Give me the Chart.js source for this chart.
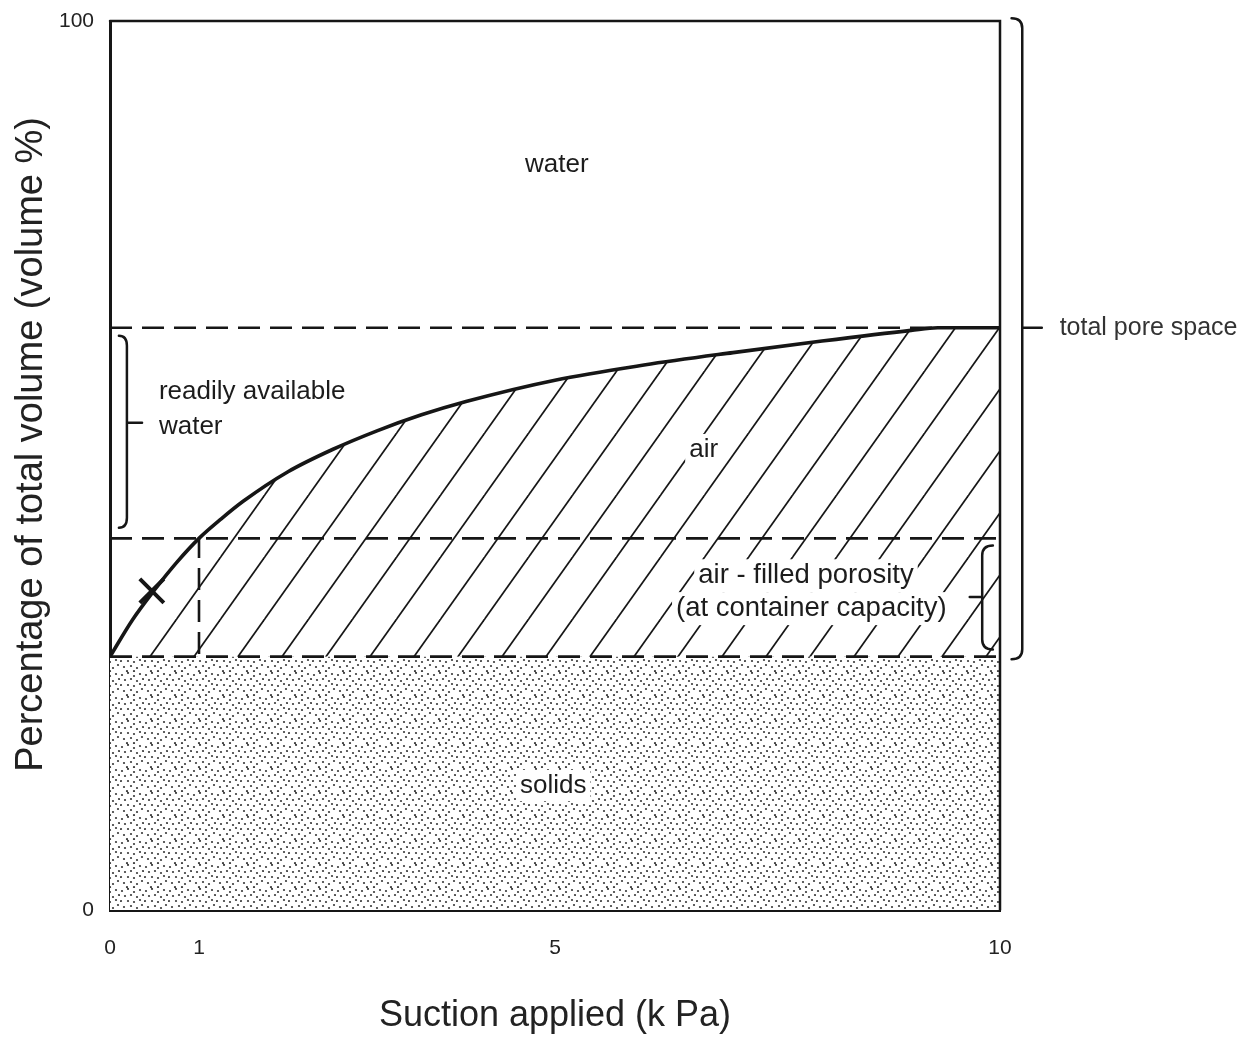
<!DOCTYPE html>
<html><head><meta charset="utf-8">
<script src="https://cdn.jsdelivr.net/npm/chart.js@4.4.1/dist/chart.umd.min.js"></script>
<style>html,body{margin:0;padding:0;background:#fff;}canvas{display:block;}</style>
</head><body>
<canvas id="c" width="1253" height="1038"></canvas>
<script>
// ---- data ----
const suction      = [0, 0.25, 0.5, 0.75, 1, 1.25, 1.5, 2, 2.5, 3, 3.5, 4, 5, 6, 7, 8, 9, 9.3, 10];
const waterCurve   = [28.5, 32.6, 36, 39.1, 41.8, 44, 46, 49.3, 51.8, 53.9, 55.7, 57.2, 59.6, 61.3, 62.7, 64, 65.2, 65.5, 65.5];
const lineEnds     = [0, 10];
const solidsLevel  = [28.5, 28.5];
const containerCap = [41.8, 41.8];
const totalPore    = [65.5, 65.5];
const capSuction   = [1, 1];
const capLevels    = [0, 41.8];
const markerX      = [0.47];
const markerY      = [35.9];
const xTickValues  = [0, 1, 5, 10];
const yTickValues  = [0, 100];
const xTitle = 'Suction applied (k Pa)';
const yTitle = '    Percentage of total volume (volume %)';
const labelTexts = ['water', 'air', 'solids', 'readily available', 'water',
                    'air - filled porosity', '(at container capacity)', 'total pore space'];
const labelX = [5.02, 6.67, 4.98, 0.55, 0.55, 7.82, 7.88, 10.67];
const labelY = [83.8, 51.8, 14, 58.3, 54.3, 37.6, 33.9, 65.5];
const braceX    = [0.19, 9.8, 10.25];
const braceHook = [0.1, 9.92, 10.13];
const braceTick = [0.36, 9.66, 10.47];
const braceTop  = [64.6, 41, 100.3];
const braceBot  = [43, 29.3, 28.2];
const braceMid  = [54.8, 35.2, 65.5];

const INK = '#161616';
const FONT = '"Liberation Sans", Arial, Helvetica, sans-serif';

function pts(xs, ys){ return xs.map((x,i)=>({x:x, y:ys[i]})); }

function hatchPattern(){
  const w=44, h=62;
  const c=document.createElement('canvas'); c.width=w; c.height=h;
  const g=c.getContext('2d');
  g.strokeStyle=INK; g.lineWidth=1.7;
  for (let k=0;k<=2;k++){
    g.beginPath();
    g.moveTo(k*w + (w/h)*10, -10);
    g.lineTo(k*w - (w/h)*(h+10), h+10);
    g.stroke();
  }
  return g.createPattern(c,'repeat');
}
function dotPattern(){
  const c=document.createElement('canvas'); c.width=24; c.height=24;
  const g=c.getContext('2d');
  g.fillStyle='#fff'; g.fillRect(0,0,24,24);
  g.fillStyle='#3a3a3a';
  const d=[[2,3],[8,1],[14,4],[20,2],[5,8],[11,7],[17,9],[23,7],[1,13],[8,13],[14,14],[20,12],[4,19],[11,18],[17,20],[22,17],[7,23],[14,23]];
  d.forEach(p=>{g.beginPath(); g.arc(p[0],p[1],1.1,0,Math.PI*2); g.fill();});
  return g.createPattern(c,'repeat');
}

const overlay = {
  id:'overlay',
  afterDatasetsDraw(chart){
    const {ctx, scales:{x,y}} = chart;
    ctx.save();
    ctx.textBaseline='middle';
    labelTexts.forEach((t,i)=>{
      const px=x.getPixelForValue(labelX[i]), py=y.getPixelForValue(labelY[i]);
      let align = 'center';
      if (i===3||i===4||i===7) align='left';
      const fs = (i===7)?25:((i===5||i===6)?27.5:26);
      ctx.font = fs+'px ' + FONT;
      const wdt = ctx.measureText(t).width;
      const x0 = align==='left'?px:px-wdt/2;
      if (i===1||i===2||i===5||i===6){
        ctx.fillStyle='#fff';
        ctx.fillRect(x0-4, py-fs*0.6, wdt+8, fs*1.2);
      }
      ctx.fillStyle = i===7?'#333':'#1c1c1c';
      ctx.textAlign=align;
      ctx.fillText(t, px, py);
    });
    ctx.restore();
  },
  afterDraw(chart){
    const {ctx, chartArea:a, scales:{x,y}} = chart;
    ctx.save();
    ctx.strokeStyle=INK; ctx.lineWidth=2.5; ctx.lineCap='round';
    ctx.beginPath(); ctx.moveTo(a.left,a.top); ctx.lineTo(a.right,a.top); ctx.lineTo(a.right,a.bottom); ctx.stroke();
    braceX.forEach((bx,i)=>{
      const xv=x.getPixelForValue(bx), xh=x.getPixelForValue(braceHook[i]), xt=x.getPixelForValue(braceTick[i]);
      const yt=y.getPixelForValue(braceTop[i]), yb=y.getPixelForValue(braceBot[i]), ym=y.getPixelForValue(braceMid[i]);
      const r=10;
      ctx.beginPath();
      ctx.moveTo(xh,yt);
      ctx.quadraticCurveTo(xv,yt,xv,yt+r);
      ctx.lineTo(xv,yb-r);
      ctx.quadraticCurveTo(xv,yb,xh,yb);
      ctx.moveTo(xv,ym); ctx.lineTo(xt,ym);
      ctx.stroke();
    });
    ctx.restore();
  }
};

const dash=[22,10];
const dashedStyle = {borderColor:INK, borderWidth:2.6, borderDash:dash, pointRadius:0, tension:0, fill:false};

new Chart(document.getElementById('c'), {
  type:'line',
  data:{ datasets:[
    Object.assign({}, dashedStyle, {label:'solids', data:pts(lineEnds, solidsLevel), fill:'origin', backgroundColor:dotPattern()}),
    {label:'water retention', data:pts(suction, waterCurve), borderColor:INK, borderWidth:3.6, pointRadius:0,
     cubicInterpolationMode:'monotone', fill:{target:0}, backgroundColor:hatchPattern()},
    Object.assign({}, dashedStyle, {label:'total pore space', data:pts(lineEnds, totalPore)}),
    Object.assign({}, dashedStyle, {label:'container capacity', data:pts(lineEnds, containerCap)}),
    Object.assign({}, dashedStyle, {label:'1 kPa', data:pts(capSuction, capLevels)}),
    {label:'marker', data:pts(markerX, markerY), showLine:false, pointStyle:'crossRot', pointRadius:17,
     borderColor:INK, borderWidth:4, backgroundColor:INK}
  ]},
  options:{
    responsive:false, animation:false, devicePixelRatio:1,
    layout:{padding:{top:15, right:253, left:0, bottom:0}},
    plugins:{legend:{display:false}, tooltip:{enabled:false}},
    scales:{
      x:{type:'linear', min:0, max:10,
         afterBuildTicks:s=>{s.ticks=xTickValues.map(v=>({value:v}));},
         afterFit:s=>{s.height=128; s.paddingLeft=0; s.paddingRight=0;},
         grid:{display:false}, border:{display:true, width:3, color:INK},
         ticks:{padding:18, color:'#222', font:{size:21, family:FONT}, maxRotation:0, autoSkip:false},
         title:{display:true, text:xTitle, color:'#222', font:{size:36, family:FONT}, padding:{top:0,bottom:0}}},
      y:{type:'linear', min:0, max:100,
         afterBuildTicks:s=>{s.ticks=yTickValues.map(v=>({value:v}));},
         afterFit:s=>{s.width=110; s.paddingTop=0; s.paddingBottom=0;},
         grid:{display:false}, border:{display:true, width:3, color:INK},
         ticks:{padding:8, color:'#222', font:{size:21, family:FONT}, autoSkip:false},
         title:{display:true, text:yTitle, color:'#222', font:{size:38, family:FONT}, padding:{top:9,bottom:0}}}
    }
  },
  plugins:[overlay]
});
</script>
</body></html>
